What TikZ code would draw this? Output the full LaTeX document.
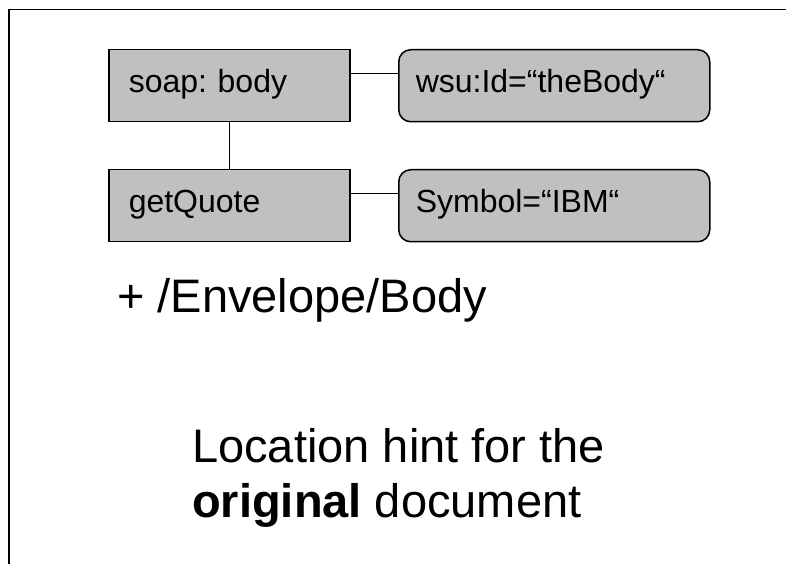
\documentclass[tikz,border=0pt]{standalone}
\usepackage{fontspec}
\setmainfont{Liberation Sans}
\frenchspacing
\definecolor{boxgray}{RGB}{192,192,192}
\begin{document}
\begin{tikzpicture}[x=1pt,y=1pt,
  boxtext/.style={font=\fontsize{32}{38}\selectfont, text height=23pt, text depth=9pt},
  elembox/.style={boxtext, draw=black, line width=1.5pt, fill=boxgray,
    minimum height=72pt, inner ysep=0pt, inner xsep=20pt, text width=201pt,
    align=left, anchor=north west},
  attrbox/.style={boxtext, draw=black, line width=1.5pt, fill=boxgray,
    rounded corners=12pt, minimum height=72pt, inner ysep=0pt, inner xsep=17pt,
    text width=277pt, align=left, anchor=north west},
  link/.style={draw=black, line width=1.2pt},
  bigtext/.style={font=\fontsize{47}{55}\selectfont, anchor=base west, inner sep=0pt},
  frameline/.style={draw=black, line width=1.5pt}]
\useasboundingbox (0,0) rectangle (786,564);

% page frame (top and left edges)
\draw[frameline] (9,0) -- (9,554.5) -- (786,554.5);

% element boxes
\node[elembox] (body) at (108,515) {soap: body};
\node[elembox] (quote) at (108,395) {getQuote};

% attribute boxes
\node[attrbox] (id) at (398,515) {wsu:Id=“theBody“};
\node[attrbox] (sym) at (398,395) {Symbol=“IBM“};

% connectors
\draw[link] (body.south) -- (quote.north);
\draw[link] ([yshift=12pt]body.east) -- ([yshift=12pt]id.west);
\draw[link] ([yshift=12pt]quote.east) -- ([yshift=12pt]sym.west);

% captions
\node[bigtext] (path) at (117,251) {+ /Envelope/Body};
\node[bigtext] (hint1) at (192,101) {Location hint for the};
\node[bigtext] (hint2) at (192,46) {\textbf{original} document};
\end{tikzpicture}
\end{document}
